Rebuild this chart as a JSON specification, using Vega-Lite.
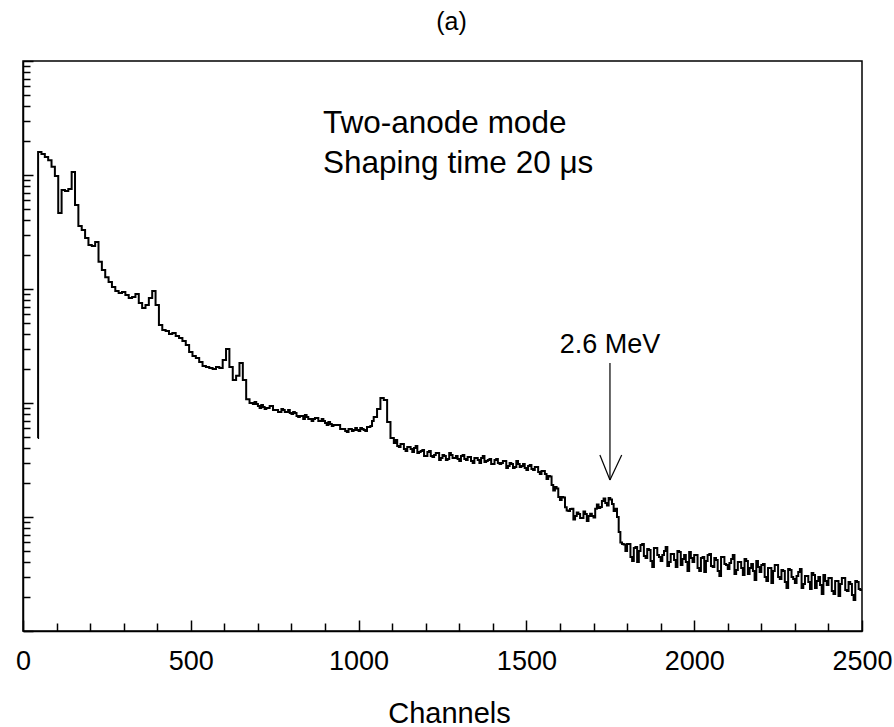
{
  "$schema": "https://vega.github.io/schema/vega-lite/v6.json",
  "width": 839,
  "height": 570,
  "autosize": {"type": "none"},
  "padding": {"left": 23, "top": 61, "right": 32, "bottom": 96},
  "background": "white",
  "config": {"view": {"stroke": "black", "strokeWidth": 1.5}, "font": "Liberation Sans", "axis": {"labelOverlap": false}},
  "title": {"text": "(a)", "fontSize": 25, "fontWeight": "normal", "font": "Liberation Sans", "color": "black", "anchor": "middle", "dx": 9, "offset": 5, "baseline": "alphabetic"},
  "datasets": {
    "spectrum": [
      {"channel": 44, "counts": 493}, {"channel": 45, "counts": 159000}, {"channel": 55, "counts": 153000}, {"channel": 65, "counts": 144000}, {"channel": 75, "counts": 135000}, {"channel": 85, "counts": 118000}, {"channel": 95, "counts": 98000}, {"channel": 105, "counts": 46400}, {"channel": 115, "counts": 73900}, {"channel": 125, "counts": 72400}, {"channel": 135, "counts": 75400}, {"channel": 145, "counts": 106000}, {"channel": 155, "counts": 54600}, {"channel": 165, "counts": 35700}, {"channel": 175, "counts": 32900}, {"channel": 185, "counts": 28000}, {"channel": 195, "counts": 24300}, {"channel": 205, "counts": 23800}, {"channel": 215, "counts": 25800}, {"channel": 225, "counts": 17300}, {"channel": 235, "counts": 14700}, {"channel": 245, "counts": 12700}, {"channel": 255, "counts": 11500}, {"channel": 265, "counts": 10400}, {"channel": 275, "counts": 9610}, {"channel": 285, "counts": 9230}, {"channel": 295, "counts": 9410}, {"channel": 305, "counts": 8860}, {"channel": 315, "counts": 8340}, {"channel": 325, "counts": 8510}, {"channel": 335, "counts": 9040}, {"channel": 345, "counts": 7540}, {"channel": 355, "counts": 6810}, {"channel": 365, "counts": 7240}, {"channel": 375, "counts": 8340}, {"channel": 385, "counts": 9610}, {"channel": 395, "counts": 7240}, {"channel": 405, "counts": 4830}, {"channel": 415, "counts": 4370}, {"channel": 425, "counts": 4280}, {"channel": 435, "counts": 4030}, {"channel": 445, "counts": 4110}, {"channel": 455, "counts": 3870}, {"channel": 465, "counts": 3720}, {"channel": 475, "counts": 3500}, {"channel": 485, "counts": 3230}, {"channel": 495, "counts": 2800}, {"channel": 505, "counts": 2590}, {"channel": 515, "counts": 2480}, {"channel": 525, "counts": 2290}, {"channel": 535, "counts": 2110}, {"channel": 545, "counts": 2070}, {"channel": 555, "counts": 2030}, {"channel": 565, "counts": 1990}, {"channel": 575, "counts": 2070}, {"channel": 585, "counts": 2030}, {"channel": 595, "counts": 2380}, {"channel": 605, "counts": 2980}, {"channel": 615, "counts": 2070}, {"channel": 625, "counts": 1590}, {"channel": 635, "counts": 1730}, {"channel": 645, "counts": 2240}, {"channel": 655, "counts": 1590}, {"channel": 665, "counts": 1080}, {"channel": 675, "counts": 1000}, {"channel": 685, "counts": 980}, {"channel": 695, "counts": 980}, {"channel": 705, "counts": 904}, {"channel": 715, "counts": 923}, {"channel": 725, "counts": 904}, {"channel": 735, "counts": 941}, {"channel": 745, "counts": 868}, {"channel": 755, "counts": 868}, {"channel": 765, "counts": 834}, {"channel": 775, "counts": 868}, {"channel": 785, "counts": 834}, {"channel": 795, "counts": 817}, {"channel": 805, "counts": 834}, {"channel": 815, "counts": 769}, {"channel": 825, "counts": 769}, {"channel": 835, "counts": 724}, {"channel": 845, "counts": 754}, {"channel": 855, "counts": 724}, {"channel": 865, "counts": 724}, {"channel": 875, "counts": 739}, {"channel": 885, "counts": 695}, {"channel": 895, "counts": 695}, {"channel": 905, "counts": 641}, {"channel": 915, "counts": 654}, {"channel": 925, "counts": 641}, {"channel": 935, "counts": 641}, {"channel": 945, "counts": 592}, {"channel": 955, "counts": 592}, {"channel": 965, "counts": 557}, {"channel": 975, "counts": 592}, {"channel": 985, "counts": 580}, {"channel": 995, "counts": 580}, {"channel": 1005, "counts": 604}, {"channel": 1015, "counts": 580}, {"channel": 1025, "counts": 616}, {"channel": 1035, "counts": 628}, {"channel": 1045, "counts": 754}, {"channel": 1055, "counts": 886}, {"channel": 1065, "counts": 1106}, {"channel": 1075, "counts": 1062}, {"channel": 1085, "counts": 681}, {"channel": 1095, "counts": 493}, {"channel": 1105, "counts": 446}, {"channel": 1115, "counts": 420}, {"channel": 1125, "counts": 437}, {"channel": 1135, "counts": 395}, {"channel": 1145, "counts": 411}, {"channel": 1155, "counts": 395}, {"channel": 1165, "counts": 403}, {"channel": 1175, "counts": 364}, {"channel": 1185, "counts": 379}, {"channel": 1195, "counts": 343}, {"channel": 1205, "counts": 372}, {"channel": 1215, "counts": 343}, {"channel": 1225, "counts": 350}, {"channel": 1235, "counts": 364}, {"channel": 1245, "counts": 329}, {"channel": 1255, "counts": 343}, {"channel": 1265, "counts": 323}, {"channel": 1275, "counts": 350}, {"channel": 1285, "counts": 329}, {"channel": 1295, "counts": 323}, {"channel": 1305, "counts": 343}, {"channel": 1315, "counts": 323}, {"channel": 1325, "counts": 336}, {"channel": 1335, "counts": 310}, {"channel": 1345, "counts": 329}, {"channel": 1355, "counts": 316}, {"channel": 1365, "counts": 329}, {"channel": 1375, "counts": 304}, {"channel": 1385, "counts": 316}, {"channel": 1395, "counts": 292}, {"channel": 1405, "counts": 316}, {"channel": 1415, "counts": 298}, {"channel": 1425, "counts": 298}, {"channel": 1435, "counts": 310}, {"channel": 1445, "counts": 280}, {"channel": 1455, "counts": 292}, {"channel": 1465, "counts": 275}, {"channel": 1475, "counts": 292}, {"channel": 1485, "counts": 280}, {"channel": 1495, "counts": 269}, {"channel": 1505, "counts": 280}, {"channel": 1515, "counts": 264}, {"channel": 1525, "counts": 275}, {"channel": 1535, "counts": 248}, {"channel": 1545, "counts": 253}, {"channel": 1555, "counts": 238}, {"channel": 1565, "counts": 229}, {"channel": 1575, "counts": 191}, {"channel": 1585, "counts": 183}, {"channel": 1595, "counts": 150}, {"channel": 1605, "counts": 150}, {"channel": 1615, "counts": 122}, {"channel": 1625, "counts": 113}, {"channel": 1635, "counts": 118}, {"channel": 1645, "counts": 102}, {"channel": 1655, "counts": 106}, {"channel": 1665, "counts": 98}, {"channel": 1675, "counts": 106}, {"channel": 1685, "counts": 102}, {"channel": 1695, "counts": 102}, {"channel": 1705, "counts": 118}, {"channel": 1715, "counts": 120}, {"channel": 1725, "counts": 138}, {"channel": 1735, "counts": 133}, {"channel": 1745, "counts": 147}, {"channel": 1755, "counts": 130}, {"channel": 1765, "counts": 118}, {"channel": 1775, "counts": 73.9}, {"channel": 1785, "counts": 58.0},
      {"channel": 1795, "counts": 50.3}, {"channel": 1805, "counts": 58.0}, {"channel": 1815, "counts": 41.1}, {"channel": 1825, "counts": 54.6}, {"channel": 1835, "counts": 50.3}, {"channel": 1845, "counts": 58.0}, {"channel": 1855, "counts": 43.7}, {"channel": 1865, "counts": 51.4}, {"channel": 1875, "counts": 36.4}, {"channel": 1885, "counts": 53.5}, {"channel": 1895, "counts": 44.6}, {"channel": 1905, "counts": 46.4}, {"channel": 1915, "counts": 54.6}, {"channel": 1925, "counts": 40.3}, {"channel": 1935, "counts": 47.4}, {"channel": 1945, "counts": 36.4}, {"channel": 1955, "counts": 49.3}, {"channel": 1965, "counts": 42.8}, {"channel": 1975, "counts": 40.3}, {"channel": 1985, "counts": 49.3},
      {"channel": 1995, "counts": 40.3}, {"channel": 2005, "counts": 46.4}, {"channel": 2015, "counts": 33.6}, {"channel": 2025, "counts": 44.6}, {"channel": 2035, "counts": 41.1}, {"channel": 2045, "counts": 47.4}, {"channel": 2055, "counts": 36.4}, {"channel": 2065, "counts": 42.0}, {"channel": 2075, "counts": 30.4}, {"channel": 2085, "counts": 44.6}, {"channel": 2095, "counts": 37.9}, {"channel": 2105, "counts": 39.5}, {"channel": 2115, "counts": 46.4}, {"channel": 2125, "counts": 34.3}, {"channel": 2135, "counts": 40.3}, {"channel": 2145, "counts": 31.0}, {"channel": 2155, "counts": 41.1}, {"channel": 2165, "counts": 35.7}, {"channel": 2175, "counts": 33.6}, {"channel": 2185, "counts": 41.1},
      {"channel": 2195, "counts": 32.9}, {"channel": 2205, "counts": 38.7}, {"channel": 2215, "counts": 27.5}, {"channel": 2225, "counts": 35.7}, {"channel": 2235, "counts": 33.6}, {"channel": 2245, "counts": 37.9}, {"channel": 2255, "counts": 28.6}, {"channel": 2265, "counts": 33.6}, {"channel": 2275, "counts": 23.8}, {"channel": 2285, "counts": 34.3}, {"channel": 2295, "counts": 28.6}, {"channel": 2305, "counts": 30.4}, {"channel": 2315, "counts": 35.0}, {"channel": 2325, "counts": 25.8}, {"channel": 2335, "counts": 30.4}, {"channel": 2345, "counts": 23.4}, {"channel": 2355, "counts": 31.0}, {"channel": 2365, "counts": 27.5}, {"channel": 2375, "counts": 25.3}, {"channel": 2385, "counts": 31.0},
      {"channel": 2395, "counts": 25.3}, {"channel": 2405, "counts": 29.2}, {"channel": 2415, "counts": 21.1}, {"channel": 2425, "counts": 27.5}, {"channel": 2435, "counts": 25.8}, {"channel": 2445, "counts": 29.2}, {"channel": 2455, "counts": 22.4}, {"channel": 2465, "counts": 25.8}, {"channel": 2475, "counts": 18.7}, {"channel": 2485, "counts": 26.9}, {"channel": 2495, "counts": 22.9}, {"channel": 2500, "counts": 22.9},
      {"channel": 690, "counts": 1020}, {"channel": 700, "counts": 941}, {"channel": 710, "counts": 961}, {"channel": 720, "counts": 886}, {"channel": 730, "counts": 904}, {"channel": 740, "counts": 941}, {"channel": 750, "counts": 868}, {"channel": 760, "counts": 834}, {"channel": 770, "counts": 886}, {"channel": 780, "counts": 834}, {"channel": 790, "counts": 868}, {"channel": 800, "counts": 801}, {"channel": 810, "counts": 817}, {"channel": 820, "counts": 754}, {"channel": 830, "counts": 769}, {"channel": 840, "counts": 785}, {"channel": 850, "counts": 724}, {"channel": 860, "counts": 695}, {"channel": 870, "counts": 739}, {"channel": 880, "counts": 695}, {"channel": 890, "counts": 724}, {"channel": 900, "counts": 668}, {"channel": 910, "counts": 681}, {"channel": 920, "counts": 628}, {"channel": 930, "counts": 641}, {"channel": 940, "counts": 641}, {"channel": 950, "counts": 592}, {"channel": 960, "counts": 568}, {"channel": 970, "counts": 592}, {"channel": 980, "counts": 568}, {"channel": 990, "counts": 604}, {"channel": 1000, "counts": 568}, {"channel": 1010, "counts": 592}, {"channel": 1020, "counts": 568}, {"channel": 1030, "counts": 616}, {"channel": 1040, "counts": 695},
      {"channel": 1110, "counts": 474}, {"channel": 1120, "counts": 411}, {"channel": 1130, "counts": 437}, {"channel": 1140, "counts": 379}, {"channel": 1150, "counts": 411}, {"channel": 1160, "counts": 372}, {"channel": 1170, "counts": 420}, {"channel": 1180, "counts": 372}, {"channel": 1190, "counts": 387}, {"channel": 1200, "counts": 343}, {"channel": 1210, "counts": 379}, {"channel": 1220, "counts": 336}, {"channel": 1230, "counts": 364}, {"channel": 1240, "counts": 316}, {"channel": 1250, "counts": 350}, {"channel": 1260, "counts": 316}, {"channel": 1270, "counts": 364}, {"channel": 1280, "counts": 329}, {"channel": 1290, "counts": 343}, {"channel": 1300, "counts": 310}, {"channel": 1310, "counts": 350}, {"channel": 1320, "counts": 316}, {"channel": 1330, "counts": 336}, {"channel": 1340, "counts": 298}, {"channel": 1350, "counts": 329}, {"channel": 1360, "counts": 298}, {"channel": 1370, "counts": 343}, {"channel": 1380, "counts": 310}, {"channel": 1390, "counts": 323}, {"channel": 1400, "counts": 292}, {"channel": 1410, "counts": 323}, {"channel": 1420, "counts": 292}, {"channel": 1430, "counts": 310}, {"channel": 1440, "counts": 269}, {"channel": 1450, "counts": 298}, {"channel": 1460, "counts": 269}, {"channel": 1470, "counts": 310}, {"channel": 1480, "counts": 275}, {"channel": 1490, "counts": 292}, {"channel": 1500, "counts": 258}, {"channel": 1510, "counts": 286}, {"channel": 1520, "counts": 258}, {"channel": 1530, "counts": 275}, {"channel": 1540, "counts": 238}, {"channel": 1550, "counts": 253},
      {"channel": 1560, "counts": 215.5}, {"channel": 1570, "counts": 226.6}, {"channel": 1580, "counts": 170.8}, {"channel": 1590, "counts": 177.9}, {"channel": 1600, "counts": 141}, {"channel": 1610, "counts": 148.3}, {"channel": 1620, "counts": 114}, {"channel": 1630, "counts": 117.5}, {"channel": 1640, "counts": 95.1}, {"channel": 1650, "counts": 109.5}, {"channel": 1660, "counts": 98}, {"channel": 1670, "counts": 111.7}, {"channel": 1680, "counts": 92.3}, {"channel": 1690, "counts": 107}, {"channel": 1700, "counts": 99}, {"channel": 1710, "counts": 128.7}, {"channel": 1720, "counts": 122.4}, {"channel": 1730, "counts": 145.3}, {"channel": 1740, "counts": 126}, {"channel": 1750, "counts": 142.4}, {"channel": 1760, "counts": 112.9}, {"channel": 1770, "counts": 100}, {"channel": 1780, "counts": 59.7}, {"channel": 1790, "counts": 57.4},
      {"channel": 1800, "counts": 58.0}, {"channel": 1810, "counts": 44.6}, {"channel": 1820, "counts": 53.5}, {"channel": 1830, "counts": 40.3}, {"channel": 1840, "counts": 56.8}, {"channel": 1850, "counts": 45.5}, {"channel": 1860, "counts": 52.4}, {"channel": 1870, "counts": 41.1}, {"channel": 1880, "counts": 53.5}, {"channel": 1890, "counts": 46.4}, {"channel": 1900, "counts": 41.1}, {"channel": 1910, "counts": 50.3}, {"channel": 1920, "counts": 37.2}, {"channel": 1930, "counts": 47.4}, {"channel": 1940, "counts": 42.0}, {"channel": 1950, "counts": 50.3}, {"channel": 1960, "counts": 37.9}, {"channel": 1970, "counts": 46.4}, {"channel": 1980, "counts": 33.6}, {"channel": 1990, "counts": 43.7},
      {"channel": 2000, "counts": 46.4}, {"channel": 2010, "counts": 35.7}, {"channel": 2020, "counts": 43.7}, {"channel": 2030, "counts": 32.9}, {"channel": 2040, "counts": 46.4}, {"channel": 2050, "counts": 37.2}, {"channel": 2060, "counts": 43.7}, {"channel": 2070, "counts": 33.6}, {"channel": 2080, "counts": 44.6}, {"channel": 2090, "counts": 38.7}, {"channel": 2100, "counts": 35.0}, {"channel": 2110, "counts": 42.8}, {"channel": 2120, "counts": 31.6}, {"channel": 2130, "counts": 40.3}, {"channel": 2140, "counts": 35.7}, {"channel": 2150, "counts": 42.8}, {"channel": 2160, "counts": 31.6}, {"channel": 2170, "counts": 38.7}, {"channel": 2180, "counts": 28.0}, {"channel": 2190, "counts": 36.4},
      {"channel": 2200, "counts": 37.9}, {"channel": 2210, "counts": 29.8}, {"channel": 2220, "counts": 35.7}, {"channel": 2230, "counts": 26.4}, {"channel": 2240, "counts": 37.9}, {"channel": 2250, "counts": 29.8}, {"channel": 2260, "counts": 34.3}, {"channel": 2270, "counts": 26.9}, {"channel": 2280, "counts": 35.0}, {"channel": 2290, "counts": 29.8}, {"channel": 2300, "counts": 26.4}, {"channel": 2310, "counts": 32.9}, {"channel": 2320, "counts": 23.8}, {"channel": 2330, "counts": 30.4}, {"channel": 2340, "counts": 26.9}, {"channel": 2350, "counts": 32.3}, {"channel": 2360, "counts": 23.8}, {"channel": 2370, "counts": 29.8}, {"channel": 2380, "counts": 21.1}, {"channel": 2390, "counts": 27.5},
      {"channel": 2400, "counts": 29.2}, {"channel": 2410, "counts": 22.4}, {"channel": 2420, "counts": 27.5}, {"channel": 2430, "counts": 20.3}, {"channel": 2440, "counts": 29.2}, {"channel": 2450, "counts": 22.9}, {"channel": 2460, "counts": 26.9}, {"channel": 2470, "counts": 20.7}, {"channel": 2480, "counts": 27.5}, {"channel": 2490, "counts": 23.4}
    ],
    "arrow": [
      {"channel": 1749, "counts": 2244, "channel2": 1749, "counts2": 211},
      {"channel": 1719, "counts": 350, "channel2": 1749, "counts2": 211},
      {"channel": 1784, "counts": 350, "channel2": 1749, "counts2": 211}
    ],
    "notesLeft": [
      {"channel": 894, "counts": 233500, "label": "Two-anode mode"},
      {"channel": 894, "counts": 104100, "label": "Shaping time 20 μs"}
    ],
    "notesCenter": [
      {"channel": 1749, "counts": 2745, "label": "2.6 MeV"}
    ]
  },
  "encoding": {
    "x": {
      "field": "channel", "type": "quantitative",
      "scale": {"domain": [0, 2500], "nice": false, "zero": false},
      "axis": {
        "title": "Channels",
        "values": [0, 100, 200, 300, 400, 500, 600, 700, 800, 900, 1000, 1100, 1200, 1300, 1400, 1500, 1600, 1700, 1800, 1900, 2000, 2100, 2200, 2300, 2400, 2500],
        "labelExpr": "datum.value % 500 === 0 ? format(datum.value, 'd') : ''",
        "tickSize": {"condition": {"test": "datum.value % 500 === 0", "value": -11}, "value": -8},
        "tickColor": "black", "tickWidth": 1.5,
        "domainColor": "black", "domainWidth": 1.5,
        "grid": false,
        "labelFont": "Liberation Sans", "labelFontSize": 27, "labelColor": "black",
        "labelPadding": 28, "labelFlush": false, "labelOverlap": false, "labelSeparation": 0, "labelBound": false,
        "titleFont": "Liberation Sans", "titleFontSize": 29, "titleFontWeight": "normal", "titleColor": "black",
        "titleBaseline": "alphabetic", "titleY": 91, "titleX": 426
      }
    },
    "y": {
      "field": "counts", "type": "quantitative",
      "scale": {"type": "log", "domain": [10, 1000000], "nice": false},
      "axis": {
        "title": null,
        "labels": false,
        "values": [10, 20, 30, 40, 50, 60, 70, 80, 90, 100, 200, 300, 400, 500, 600, 700, 800, 900, 1000, 2000, 3000, 4000, 5000, 6000, 7000, 8000, 9000, 10000, 20000, 30000, 40000, 50000, 60000, 70000, 80000, 90000, 100000, 200000, 300000, 400000, 500000, 600000, 700000, 800000, 900000, 1000000],
        "tickSize": {"condition": {"test": "indexof([10, 100, 1000, 10000, 100000, 1000000], datum.value) >= 0", "value": -10}, "value": -7},
        "tickColor": "black", "tickWidth": 1.5,
        "domainColor": "black", "domainWidth": 1.5,
        "grid": false
      }
    }
  },
  "layer": [
    {
      "data": {"name": "spectrum"},
      "mark": {"type": "line", "interpolate": "step-after", "color": "black", "strokeWidth": 2}
    },
    {
      "data": {"name": "arrow"},
      "mark": {"type": "rule", "color": "black", "strokeWidth": 1.2},
      "encoding": {
        "x2": {"field": "channel2"},
        "y2": {"field": "counts2"}
      }
    },
    {
      "data": {"name": "notesLeft"},
      "mark": {"type": "text", "align": "left", "baseline": "alphabetic", "font": "Liberation Sans", "fontSize": 31.5, "color": "black"},
      "encoding": {"text": {"field": "label"}}
    },
    {
      "data": {"name": "notesCenter"},
      "mark": {"type": "text", "align": "center", "baseline": "alphabetic", "font": "Liberation Sans", "fontSize": 27, "color": "black"},
      "encoding": {"text": {"field": "label"}}
    }
  ]
}
